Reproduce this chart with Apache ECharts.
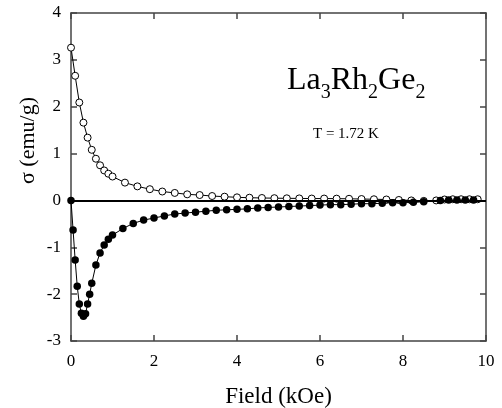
<!DOCTYPE html>
<html>
<head>
<meta charset="utf-8">
<script src="https://cdn.jsdelivr.net/npm/echarts@6/dist/echarts.min.js"></script>
<style>
  html, body { margin: 0; padding: 0; background: #fff; }
  #chart { width: 502px; height: 408px; }
</style>
</head>
<body>
<div id="chart"></div>
<script>
// open circles (upper branch)
const openField = [0, 0.1, 0.2, 0.3, 0.4, 0.5, 0.6, 0.7, 0.8, 0.9, 1.0, 1.3, 1.6, 1.9, 2.2, 2.5, 2.8, 3.1, 3.4, 3.7,
  4.0, 4.3, 4.6, 4.9, 5.2, 5.5, 5.8, 6.1, 6.4, 6.7, 7.0, 7.3, 7.6, 7.9, 8.2, 8.5, 8.8, 9.0, 9.2, 9.4, 9.6, 9.8];
const openSigma = [3.26, 2.66, 2.09, 1.66, 1.34, 1.08, 0.89, 0.75, 0.64, 0.57, 0.51, 0.38, 0.30, 0.24, 0.19, 0.16, 0.13, 0.115, 0.094, 0.08,
  0.066, 0.058, 0.052, 0.048, 0.045, 0.043, 0.040, 0.040, 0.038, 0.035, 0.030, 0.025, 0.02, 0.01, 0.0, -0.01, 0.0, 0.02, 0.025, 0.025, 0.025, 0.025];

// filled circles (lower branch)
const filledField = [0, 0.05, 0.1, 0.15, 0.2, 0.25, 0.3, 0.35, 0.4, 0.45, 0.5, 0.6, 0.7, 0.8, 0.9, 1.0, 1.25, 1.5, 1.75, 2.0,
  2.25, 2.5, 2.75, 3.0, 3.25, 3.5, 3.75, 4.0, 4.25, 4.5, 4.75, 5.0, 5.25, 5.5, 5.75, 6.0, 6.25, 6.5, 6.75, 7.0,
  7.25, 7.5, 7.75, 8.0, 8.25, 8.5, 8.9, 9.1, 9.3, 9.5, 9.7];
const filledSigma = [0, -0.63, -1.27, -1.83, -2.21, -2.41, -2.47, -2.42, -2.21, -2.0, -1.77, -1.38, -1.12, -0.95, -0.83, -0.74, -0.60, -0.49, -0.42, -0.375,
  -0.33, -0.29, -0.27, -0.25, -0.23, -0.21, -0.20, -0.19, -0.18, -0.16, -0.15, -0.14, -0.13, -0.12, -0.11, -0.10, -0.09, -0.09, -0.08, -0.07,
  -0.07, -0.06, -0.05, -0.05, -0.04, -0.03, 0.0, 0.01, 0.01, 0.01, 0.01];

const xTicks = [0, 2, 4, 6, 8, 10];
const yTicks = [-3, -2, -1, 0, 1, 2, 3, 4];

const serif = "Liberation Serif";
const axisCol = "#444";

const zip = (xs, ys) => xs.map((x, i) => [x, ys[i]]);

const frameAxis = (extra) => Object.assign({
  type: "value",
  axisLine: { show: true, onZero: false, lineStyle: { color: axisCol, width: 1.5 } },
  axisTick: { show: true, inside: true, length: 6, lineStyle: { color: axisCol, width: 1.5 } },
  splitLine: { show: false },
}, extra);

const option = {
  animation: false,
  backgroundColor: "#fff",
  grid: { left: 71, right: 16, top: 13, bottom: 67, outerBoundsMode: "none" },
  xAxis: [
    frameAxis({
      min: xTicks[0], max: xTicks[xTicks.length - 1], interval: 2,
      name: "Field (kOe)", nameLocation: "middle", nameGap: 44,
      nameTextStyle: { fontFamily: serif, fontSize: 23, color: "#000" },
      axisLabel: { fontFamily: serif, fontSize: 17, color: "#000", margin: 12 },
    }),
    frameAxis({
      position: "top", min: xTicks[0], max: xTicks[xTicks.length - 1], interval: 2,
      axisLabel: { show: false },
    }),
  ],
  yAxis: [
    frameAxis({
      min: yTicks[0], max: yTicks[yTicks.length - 1], interval: 1,
      axisLabel: { fontFamily: serif, fontSize: 17, color: "#000", margin: 10 },
    }),
    frameAxis({
      position: "right", min: yTicks[0], max: yTicks[yTicks.length - 1], interval: 1,
      axisLabel: { show: false },
    }),
  ],
  series: [
    {
      type: "line",
      data: zip(openField, openSigma),
      symbol: "circle",
      symbolSize: 7,
      showAllSymbol: true,
      lineStyle: { color: "#000", width: 1 },
      itemStyle: { color: "#fff", borderColor: "#000", borderWidth: 1 },
      markLine: {
        silent: true,
        symbol: "none",
        label: { show: false },
        lineStyle: { color: "#000", width: 2, type: "solid" },
        data: [{ yAxis: 0 }],
      },
      z: 3,
    },
    {
      type: "line",
      data: zip(filledField, filledSigma),
      symbol: "circle",
      symbolSize: 7.5,
      showAllSymbol: true,
      lineStyle: { color: "#000", width: 1 },
      itemStyle: { color: "#000", borderColor: "#000", borderWidth: 0 },
      z: 4,
    },
  ],
  graphic: [
    {
      type: "text",
      left: 17, top: 97,
      rotation: Math.PI / 2,
      originX: 0, originY: 0,
      style: {
        text: "σ (emu/g)",
        fontFamily: serif, fontSize: 22, fill: "#000",
        align: "center", verticalAlign: "middle",
      },
    },
    {
      type: "text",
      left: 287, top: 65,
      style: {
        text: "{n|La}{s|3}{n|Rh}{s|2}{n|Ge}{s|2}",
        fontFamily: serif, fill: "#000",
        rich: {
          n: { fontFamily: serif, fontSize: 32, lineHeight: 44, verticalAlign: "middle", color: "#000" },
          s: { fontFamily: serif, fontSize: 20, lineHeight: 20, verticalAlign: "bottom", color: "#000" },
        },
      },
    },
    {
      type: "text",
      left: 313, top: 127,
      style: { text: "T = 1.72 K", fontFamily: serif, fontSize: 15, fill: "#000" },
    },
  ],
};

const chart = echarts.init(document.getElementById("chart"));
chart.setOption(option);
</script>
</body>
</html>
